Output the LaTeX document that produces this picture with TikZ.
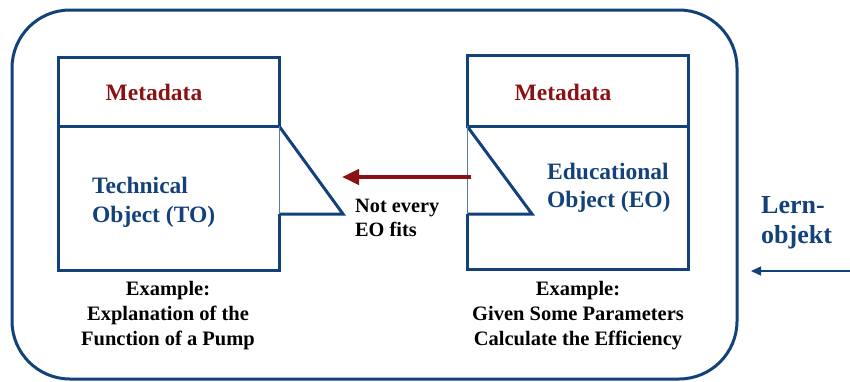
\documentclass[tikz,border=0pt]{standalone}
\usepackage{fontspec}
\setmainfont{Liberation Serif}
\usetikzlibrary{arrows.meta}
\definecolor{navy}{HTML}{13417A}
\definecolor{wine}{HTML}{8B1212}
\begin{document}
\begin{tikzpicture}[x=1pt,y=-1pt,
  frame/.style={draw=navy,line width=3pt,line join=miter},
  hinge/.style={draw=navy!70,line width=1pt},
  metatext/.style={font=\fontsize{23.5}{26}\selectfont\bfseries,text=wine,anchor=base,inner sep=0pt},
  objtext/.style={font=\fontsize{23.5}{28}\selectfont\bfseries,text=navy,anchor=base west,inner sep=0pt},
  captext/.style={font=\fontsize{20.5}{25}\selectfont\bfseries,text=black,anchor=base,inner sep=0pt},
  notetext/.style={font=\fontsize{20.3}{24}\selectfont\bfseries,text=black,anchor=base west,inner sep=0pt},
  lerntext/.style={font=\fontsize{26}{30}\selectfont\bfseries,text=navy,anchor=base west,inner sep=0pt}]
\useasboundingbox (0,0) rectangle (850,381);

% outer learning-object frame
\draw[frame,rounded corners=58pt] (12,10) rectangle (737,379);

% technical object: page with folded flap on the right
\draw[frame] (279,214) -- (279,270) -- (58,270) -- (58,57) -- (279,57) -- (279,126) -- (58,126);
\draw[frame] (279,126) -- (343,214) -- (279,214);
\draw[hinge] (279,126) -- (279,214);

% educational object: page with folded flap on the left
\draw[frame] (467,214) -- (467,269) -- (688,269) -- (688,55) -- (467,55) -- (467,126) -- (688,126);
\draw[frame] (467,126) -- (532,214) -- (467,214);
\draw[hinge] (467,126) -- (467,214);

% labels inside the pages
\node[metatext] (metaL) at (154,100) {Metadata};
\node[metatext] (metaR) at (563,100) {Metadata};
\node[objtext] (techA) at (92,193) {Technical};
\node[objtext] (techB) at (92,222) {Object (TO)};
\node[objtext] (eduA) at (547,179) {Educational};
\node[objtext] (eduB) at (547,207) {Object (EO)};

% note between the pages
\node[notetext] (noteA) at (355,212) {Not every};
\node[notetext] (noteB) at (355,236) {EO fits};

% examples under the pages
\node[captext] (exL1) at (168,295) {Example:};
\node[captext] (exL2) at (168,320) {Explanation of the};
\node[captext] (exL3) at (168,345) {Function of a Pump};
\node[captext] (exR1) at (578,295) {Example:};
\node[captext] (exR2) at (578,320) {Given Some Parameters};
\node[captext] (exR3) at (578,345) {Calculate the Efficiency};

% side label
\node[lerntext] (lernA) at (761,213) {Lern-};
\node[lerntext] (lernB) at (761,243) {objekt};

% arrows
\coordinate (fitFrom) at (471,177);
\coordinate (fitTo) at (342,177);
\draw[wine,line width=4pt,-{Triangle[length=17pt,width=15pt]}] (fitFrom) -- (fitTo);
\coordinate (lernFrom) at (850,271);
\coordinate (lernTo) at (751,271);
\draw[navy,line width=1.5pt,-{Triangle[length=10pt,width=9pt]}] (lernFrom) -- (lernTo);
\end{tikzpicture}
\end{document}
